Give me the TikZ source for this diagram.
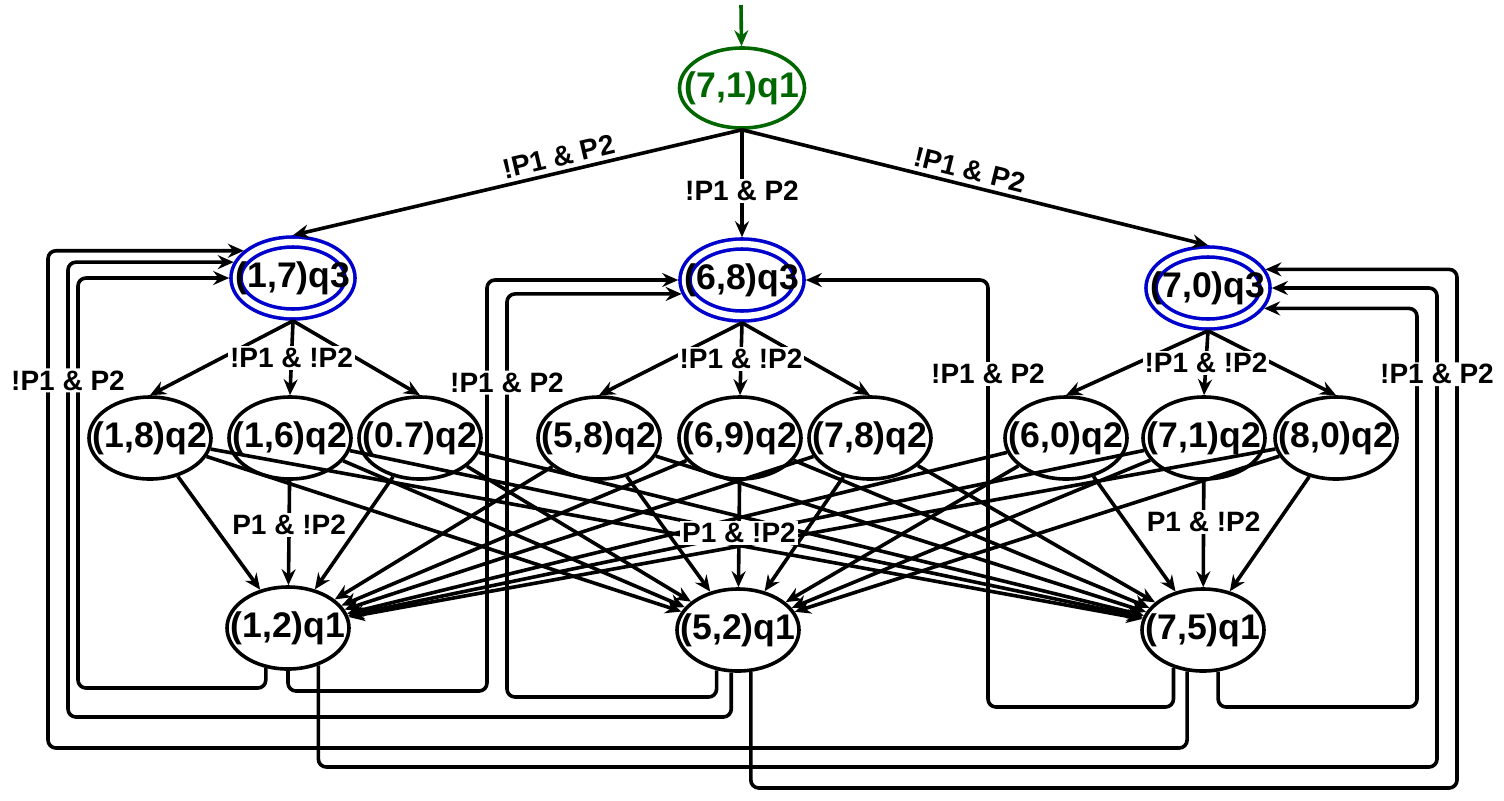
\documentclass[tikz,border=0pt]{standalone}
\usepackage{fontspec}
\setmainfont{Liberation Sans}
\usetikzlibrary{shapes.geometric,arrows.meta}
\definecolor{initGreen}{RGB}{0,102,0}
\definecolor{acceptBlue}{RGB}{0,0,204}

\begin{document}
\begin{tikzpicture}
[x=0.5pt,y=-0.5pt,
  lineDecorate/.style={-{Stealth[length=8pt,width=7pt,inset=2.7pt]},line width=1.8pt},%
  loopDecorate/.style={lineDecorate,rounded corners=4pt},%
  nodeDecorate/.style={shape=ellipse,draw,line width=1.8pt,inner sep=0pt,
    minimum width=61pt,minimum height=41pt,font=\fontsize{17.8}{20}\selectfont\bfseries},%
  acceptDecorate/.style={nodeDecorate,draw=acceptBlue,double,double distance=3.2pt,
    minimum width=57pt,minimum height=36pt,outer sep=3.4pt},%
  initDecorate/.style={nodeDecorate,draw=initGreen,text=initGreen,
    minimum width=62.5pt,minimum height=40pt},%
  labelDecorate/.style={fill=white,inner sep=1pt,font=\fontsize{14}{16}\selectfont\bfseries}]
\useasboundingbox (0,0) rectangle (1504,800);
%% initial state
\node (s0) at (742,88) [initDecorate] {\makebox[0pt]{(7,1)q1}};
\coordinate (s0in) at (741,5);
\draw[lineDecorate,draw=initGreen] (s0in) -- (s0);
%% accepting states
\foreach \nodename/\x/\y/\txt in {
  a3/293/278/{(1,7)q3}, b3/742/280/{(6,8)q3}, c3/1208/288/{(7,0)q3}}
{
  \node (\nodename) at (\x,\y) [acceptDecorate] {\makebox[0pt]{\txt}};
}
%% q2 and q1 states
\foreach \nodename/\x/\y/\txt in {
  a21/150/438/{(1,8)q2}, a22/290/438/{(1,6)q2}, a23/420/438/{(0.7)q2},
  b21/599/438/{(5,8)q2}, b22/740/438/{(6,9)q2}, b23/870/438/{(7,8)q2},
  c21/1066/438/{(6,0)q2}, c22/1204/438/{(7,1)q2}, c23/1336/438/{(8,0)q2},
  a1/288/628/{(1,2)q1}, b1/738/630/{(5,2)q1}, c1/1203/630/{(7,5)q1}}
{
  \node (\nodename) at (\x,\y) [nodeDecorate] {\makebox[0pt]{\txt}};
}
%% edges from the initial state
\draw[lineDecorate] (s0.south) -- node[labelDecorate,fill=none,sloped,above=1pt,pos=0.4] {!P1 \& P2} (a3.north);
\draw[lineDecorate] (s0.south) -- node[labelDecorate,pos=0.57] {!P1 \& P2} (b3.north);
\draw[lineDecorate] (s0.south) -- node[labelDecorate,fill=none,sloped,above=1pt,pos=0.48] {!P1 \& P2} (c3.north);
%% q3 -> q2
\foreach \g in {a,b,c}
{
  \draw[lineDecorate] (\g3.south) -- (\g21.north);
  \draw[lineDecorate] (\g3.south) -- (\g23.north);
  \draw[lineDecorate] (\g3.south) -- node[labelDecorate] {!P1 \& !P2} (\g22.north);
}
%% q2 -> q1
\foreach \g in {a,b,c}
  \foreach \i in {1,2,3}
    \foreach \t in {a,b,c}
    {
      \edef\thisedge{\g\i\t}\edef\skipedge{\t2\t}
      \ifx\thisedge\skipedge\else
        \draw[lineDecorate] (\g2\i) -- (\t1);
      \fi
    }
\foreach \g/\p in {a/0.42,b/0.49,c/0.39}
{
  \draw[lineDecorate] (\g22) -- node[labelDecorate,pos=\p] {P1 \& !P2} (\g1);
}
%% q1 -> q3
\draw[loopDecorate] (a1.241) |- (78,688) |- (a3.west);
\draw[loopDecorate] (c1.249) |- (48,748) |- (a3.151);
\draw[loopDecorate] (a1.south) |- (487,691) |- (b3.west);
\draw[loopDecorate] (c1.290) |- (1417,707) |- (c3.340);
\draw[loopDecorate] (b1.287) |- (1457,788) |- (c3.18);
\draw[loopDecorate] (b1.261) |- (68,717) |- node[labelDecorate,pos=0.37] {!P1 \& P2} (a3.165);
\draw[loopDecorate] (b1.242) |- (507,697) |- node[labelDecorate,pos=0.39] {!P1 \& P2} (b3.193);
\draw[loopDecorate] (c1.232) |- (988,707) |- node[labelDecorate,pos=0.39] {!P1 \& P2} (b3.east);
\draw[loopDecorate] (a1.309) |- (1437,767) |- node[labelDecorate,pos=0.41] {!P1 \& P2} (c3.east);
\end{tikzpicture}
\end{document}
